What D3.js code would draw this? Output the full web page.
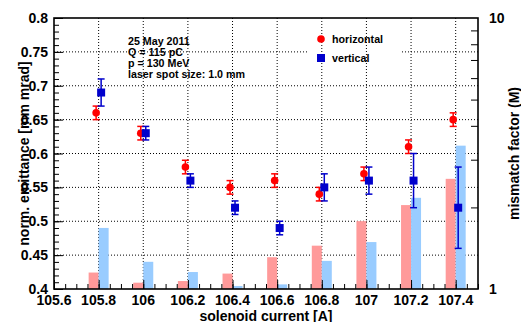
<!DOCTYPE html>
<html>
<head>
<meta charset="utf-8">
<script src="https://cdn.jsdelivr.net/npm/d3@7"></script>
<style>
  body { margin: 0; background: #fff; }
  svg text { font-family: "Liberation Sans", Arial, Helvetica, sans-serif; font-weight: bold; fill: #000; }
</style>
</head>
<body>
<svg id="chart" width="521" height="322"></svg>
<script>
// solenoid current [A]
const currents = [105.8, 106, 106.2, 106.4, 106.6, 106.8, 107, 107.2, 107.4];
// normalized emittance [mm mrad] and errors
const emitH = [0.66, 0.63, 0.58, 0.55, 0.56, 0.54, 0.57, 0.61, 0.65];
const errH  = [0.01, 0.01, 0.01, 0.01, 0.01, 0.01, 0.01, 0.01, 0.01];
const emitV = [0.69, 0.63, 0.56, 0.52, 0.49, 0.55, 0.56, 0.56, 0.52];
const errV  = [0.02, 0.01, 0.01, 0.01, 0.01, 0.02, 0.02, 0.04, 0.06];
// mismatch factor (right axis, log)
const mismatchH = [1.15, 1.055, 1.07, 1.14, 1.31, 1.445, 1.78, 2.04, 2.55];
const mismatchV = [1.68, 1.26, 1.155, 1.026, 1.04, 1.27, 1.49, 2.17, 3.38];

const xTicks = [105.6, 105.8, 106, 106.2, 106.4, 106.6, 106.8, 107, 107.2, 107.4];
const yTicks = [0.4, 0.45, 0.5, 0.55, 0.6, 0.65, 0.7, 0.75, 0.8];
const infoLines = ["25 May 2011", "Q = 115 pC", "p = 130 MeV", "laser spot size: 1.0 mm"];

const plot = { left: 54, right: 478, top: 18, bottom: 289 };
const svg = d3.select("#chart");

const x = d3.scaleLinear().domain([105.6, 107.5]).range([plot.left, plot.right]);
const y = d3.scaleLinear().domain([0.4, 0.8]).range([plot.bottom, plot.top]);
const yR = d3.scaleLog().domain([1, 10]).range([plot.bottom, plot.top]);

const pink = "#ff9a9a", lightBlue = "#99ccff";
const red = "#ff0000", blue = "#0000cc";
const barW = 10;

// horizontal grid
svg.append("g").selectAll("line")
  .data(yTicks.filter(d => d > 0.41 && d < 0.79))
  .enter().append("line")
  .attr("x1", plot.left).attr("x2", plot.right)
  .attr("y1", d => y(d)).attr("y2", d => y(d))
  .attr("stroke", "#000").attr("stroke-dasharray", "1,2");

// legend box covers part of the grid
svg.append("rect").attr("x", 308).attr("y", 27).attr("width", 93).attr("height", 44).attr("fill", "#fff");

// vertical grid
svg.append("g").selectAll("line")
  .data(xTicks.slice(1))
  .enter().append("line")
  .attr("x1", d => x(d)).attr("x2", d => x(d))
  .attr("y1", plot.top).attr("y2", plot.bottom)
  .attr("stroke", "#000").attr("stroke-dasharray", "1,2");

// mismatch bars
svg.append("g").selectAll("rect")
  .data(currents)
  .enter().append("rect")
  .attr("x", d => x(d) - barW)
  .attr("width", barW)
  .attr("y", (d, i) => yR(mismatchH[i]))
  .attr("height", (d, i) => plot.bottom - yR(mismatchH[i]))
  .attr("fill", pink);

svg.append("g").selectAll("rect")
  .data(currents)
  .enter().append("rect")
  .attr("x", d => x(d))
  .attr("width", barW)
  .attr("y", (d, i) => yR(mismatchV[i]))
  .attr("height", (d, i) => plot.bottom - yR(mismatchV[i]))
  .attr("fill", lightBlue);

// axes: ticks inward
svg.append("g").attr("transform", `translate(0,${plot.bottom})`)
  .call(d3.axisTop(x).tickValues(d3.range(105.6, 107.5001, 0.05)).tickSize(5).tickFormat(""))
  .call(g => g.select(".domain").remove());
svg.append("g").attr("transform", `translate(0,${plot.bottom})`)
  .call(d3.axisTop(x).tickValues(xTicks).tickSize(9).tickFormat(""))
  .call(g => g.select(".domain").remove());

svg.append("g").attr("transform", `translate(${plot.left},0)`)
  .call(d3.axisRight(y).tickValues(d3.range(0.4, 0.8001, 0.01)).tickSize(5).tickFormat(""))
  .call(g => g.select(".domain").remove());
svg.append("g").attr("transform", `translate(${plot.left},0)`)
  .call(d3.axisRight(y).tickValues(yTicks).tickSize(9).tickFormat(""))
  .call(g => g.select(".domain").remove());

svg.append("g").attr("transform", `translate(${plot.right},0)`)
  .call(d3.axisLeft(yR).tickValues([2, 3, 4, 5, 6, 7, 8, 9]).tickSize(7).tickFormat(""))
  .call(g => g.select(".domain").remove());

svg.selectAll(".tick line").attr("stroke", "#000");

// frame
svg.append("rect").attr("x", plot.left).attr("y", plot.top)
  .attr("width", plot.right - plot.left).attr("height", plot.bottom - plot.top)
  .attr("fill", "none").attr("stroke", "#000").attr("stroke-width", 1.6);

// tick labels
svg.append("g").selectAll("text")
  .data(xTicks).enter().append("text")
  .attr("x", d => x(d)).attr("y", 305)
  .attr("text-anchor", "middle").attr("font-size", 14)
  .text(d => +d.toFixed(1));

svg.append("g").selectAll("text")
  .data(yTicks).enter().append("text")
  .attr("x", 48).attr("y", d => y(d) + 5)
  .attr("text-anchor", "end").attr("font-size", 14)
  .text(d => +d.toFixed(2));

svg.append("g").selectAll("text")
  .data([1, 10]).enter().append("text")
  .attr("x", 489).attr("y", d => yR(d) + 5)
  .attr("font-size", 14)
  .text(d => d);

// axis titles
svg.append("text").attr("x", (plot.left + plot.right) / 2).attr("y", 320.5)
  .attr("text-anchor", "middle").attr("font-size", 14)
  .text("solenoid current [A]");
svg.append("text").attr("transform", `translate(29,${(plot.top + plot.bottom) / 2}) rotate(-90)`)
  .attr("text-anchor", "middle").attr("font-size", 14)
  .text("norm. emittance [mm mrad]");
svg.append("text").attr("transform", `translate(519,${(plot.top + plot.bottom) / 2}) rotate(-90)`)
  .attr("text-anchor", "middle").attr("font-size", 14)
  .text("mismatch factor (M)");

// error bars + markers
function drawSeries(vals, errs, dx, color, shape) {
  const g = svg.append("g");
  currents.forEach((c, i) => {
    const cx = x(c) + dx;
    const y1 = y(vals[i] + errs[i]), y0 = y(vals[i] - errs[i]);
    g.append("line").attr("x1", cx).attr("x2", cx).attr("y1", y1).attr("y2", y0)
      .attr("stroke", color).attr("stroke-width", 1.5);
    [y1, y0].forEach(yy => g.append("line")
      .attr("x1", cx - 3.5).attr("x2", cx + 3.5).attr("y1", yy).attr("y2", yy)
      .attr("stroke", color).attr("stroke-width", 1.5));
    if (shape === "circle") {
      g.append("circle").attr("cx", cx).attr("cy", y(vals[i])).attr("r", 3.8).attr("fill", color);
    } else {
      g.append("rect").attr("x", cx - 4).attr("y", y(vals[i]) - 4)
        .attr("width", 8).attr("height", 8).attr("fill", color);
    }
  });
}
drawSeries(emitH, errH, -2.5, red, "circle");
drawSeries(emitV, errV, 2.5, blue, "square");

// legend
svg.append("circle").attr("cx", 321).attr("cy", 39).attr("r", 3.8).attr("fill", red);
svg.append("rect").attr("x", 317).attr("y", 54).attr("width", 8).attr("height", 8).attr("fill", blue);
svg.append("text").attr("x", 332).attr("y", 43).attr("font-size", 10.7).text("horizontal");
svg.append("text").attr("x", 332).attr("y", 62).attr("font-size", 10.7).text("vertical");

// run info
svg.append("g").selectAll("text")
  .data(infoLines).enter().append("text")
  .attr("x", 128).attr("y", (d, i) => 44.5 + i * 11.2)
  .attr("font-size", 10.7)
  .text(d => d);
</script>
</body>
</html>
